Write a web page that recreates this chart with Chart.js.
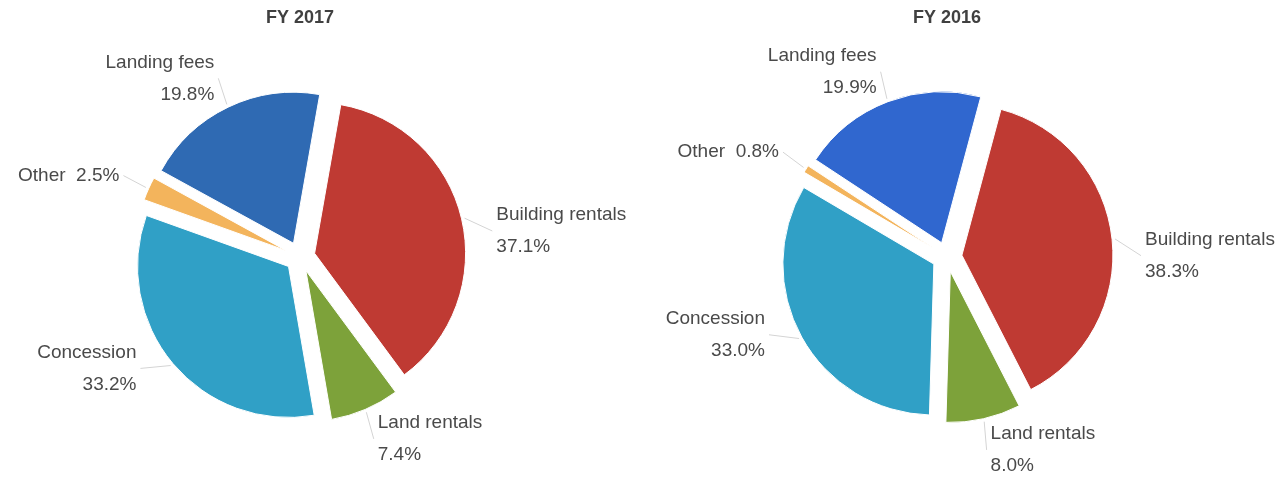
<!DOCTYPE html>
<html>
<head>
<meta charset="utf-8">
<script src="https://cdn.jsdelivr.net/npm/chart.js@4.4.1/dist/chart.umd.min.js"></script>
<style>
  body { margin: 0; background: #fff; width: 1276px; height: 489px; overflow: hidden; position: relative; }
  .box { position: absolute; top: 0; height: 489px; }
</style>
</head>
<body>
<div class="box" style="left:0;width:640px"><canvas id="chart2017"></canvas></div>
<div class="box" style="left:618px;width:658px"><canvas id="chart2016"></canvas></div>
<script>
const categories = ["Building rentals", "Land rentals", "Concession", "Other", "Landing fees"];
const values2017 = [37.1, 7.4, 33.2, 2.5, 19.8];
const values2016 = [38.3, 8.0, 33.0, 0.8, 19.9];
const colors2017 = ["#BF3A33", "#7DA23A", "#30A0C6", "#F3B45C", "#2F6AB3"];
const colors2016 = ["#BF3A33", "#7DA23A", "#30A0C6", "#F3B45C", "#3067CF"];

const explode = 15;
const pieRadius = 151;
const labelRadius = 198;

// push every slice out from the centre, then write the labels around it
const pieLabels = {
    id: "pieLabels",
    beforeDatasetsDraw(chart) {
        const a = chart.chartArea;
        const cx = (a.left + a.right) / 2, cy = (a.top + a.bottom) / 2;
        chart.getDatasetMeta(0).data.forEach(arc => {
            const mid = (arc.startAngle + arc.endAngle) / 2;
            arc.x = cx + Math.cos(mid) * explode;
            arc.y = cy + Math.sin(mid) * explode;
        });
    },
    afterDatasetsDraw(chart) {
        const ctx = chart.ctx;
        const a = chart.chartArea;
        const cx = (a.left + a.right) / 2, cy = (a.top + a.bottom) / 2;
        const values = chart.data.datasets[0].data;
        ctx.save();
        ctx.font = "19px 'Liberation Sans', Arial, sans-serif";
        ctx.textBaseline = "middle";
        chart.getDatasetMeta(0).data.forEach((arc, i) => {
            const mid = (arc.startAngle + arc.endAngle) / 2;
            const edge = pieRadius + explode + 3;
            const ex = cx + Math.cos(mid) * edge, ey = cy + Math.sin(mid) * edge;

            // big slices get their label pulled a little toward the side
            let ang = mid;
            if (values[i] > 25) {
                const side = Math.cos(mid) >= 0 ? 0 : Math.PI;
                let d = Math.atan2(Math.sin(ang - side), Math.cos(ang - side));
                ang = side + d - Math.sign(d) * Math.min(Math.abs(d), 0.1);
            }
            const dx = Math.cos(ang), dy = Math.sin(ang);
            const px = cx + dx * labelRadius, py = cy + dy * labelRadius;
            const right = dx >= 0;

            ctx.strokeStyle = "#d4d4d4";
            ctx.lineWidth = 1;
            ctx.beginPath();
            ctx.moveTo(ex, ey);
            ctx.lineTo(px + (right ? -4 : 4), py);
            ctx.stroke();

            ctx.fillStyle = "#4a4a4a";
            ctx.textAlign = right ? "left" : "right";
            const name = chart.data.labels[i];
            const pct = values[i].toFixed(1) + "%";
            if (values[i] < 3) {
                ctx.fillText(name + "  " + pct, px, py);
            } else {
                ctx.fillText(name, px, py - 16);
                ctx.fillText(pct, px, py + 16);
            }
        });
        ctx.restore();
    }
};

function makePie(id, title, values, colors, rotation, padRight) {
    return new Chart(document.getElementById(id), {
        type: "pie",
        data: {
            labels: categories,
            datasets: [
                {
                    data: values,
                    backgroundColor: colors,
                    borderColor: "#ffffff",
                    borderWidth: 1,
                },
            ],
        },
        options: {
            responsive: true,
            maintainAspectRatio: false,
            animation: false,
            events: [],
            radius: pieRadius,
            rotation: rotation,
            layout: { padding: { bottom: 4, right: padRight } },
            plugins: {
                legend: { display: false },
                tooltip: { enabled: false },
                title: {
                    display: true,
                    text: title,
                    color: "#404040",
                    font: { family: "'Liberation Sans', Arial, sans-serif", size: 18, weight: "bold" },
                    padding: { top: 7, bottom: 0 },
                },
            },
        },
        plugins: [pieLabels],
    });
}

makePie("chart2017", "FY 2017", values2017, colors2017, 10, 40);
makePie("chart2016", "FY 2016", values2016, colors2016, 15, 0);
</script>
</body>
</html>
